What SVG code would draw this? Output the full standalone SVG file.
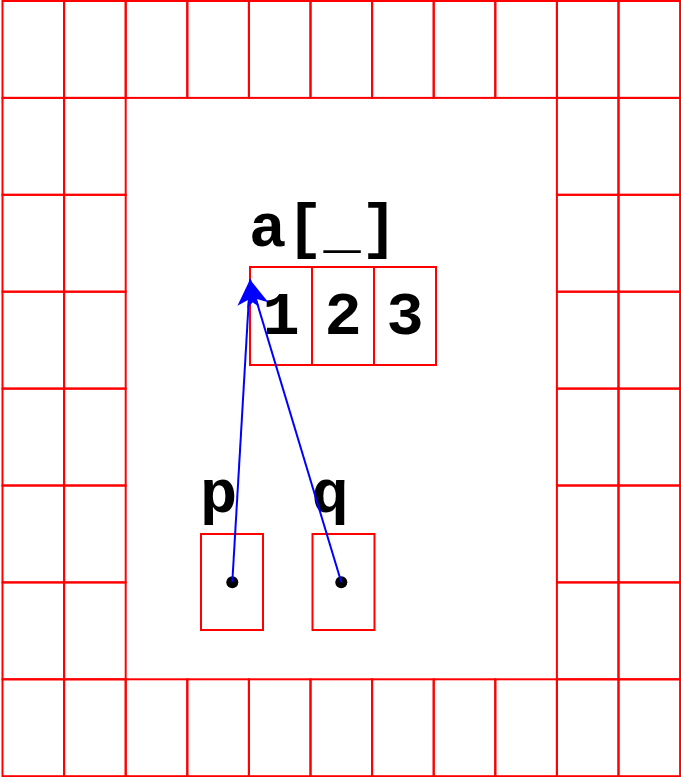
<svg xmlns="http://www.w3.org/2000/svg" width="681" height="777" viewBox="0 0 681 777">
<style>
.cell{fill:none;stroke:#ff0000;stroke-width:2}
.lbl{font-family:"Liberation Mono","Courier New",monospace;font-weight:bold;font-size:62px;fill:#000}
.ptr{stroke:#0000ff;stroke-width:2;fill:none}
</style>
<defs>
<marker id="ah" viewBox="-28 -12 30 24" markerWidth="30" markerHeight="24" refX="0" refY="0" orient="auto" markerUnits="userSpaceOnUse">
<path d="M0,0 L-27,-11 L-20,0 L-27,11 Z" fill="#0000ff"/>
</marker>
</defs>
<rect width="681" height="777" fill="#fff"/>
<g id="frame">
<g id="top-row">
<rect class="cell" x="2.5" y="1" width="61.6" height="96.9"/>
<rect class="cell" x="64.1" y="1" width="61.6" height="96.9"/>
<rect class="cell" x="125.7" y="1" width="61.6" height="96.9"/>
<rect class="cell" x="187.3" y="1" width="61.6" height="96.9"/>
<rect class="cell" x="248.9" y="1" width="61.6" height="96.9"/>
<rect class="cell" x="310.5" y="1" width="61.6" height="96.9"/>
<rect class="cell" x="372.1" y="1" width="61.6" height="96.9"/>
<rect class="cell" x="433.7" y="1" width="61.6" height="96.9"/>
<rect class="cell" x="495.3" y="1" width="61.6" height="96.9"/>
<rect class="cell" x="556.9" y="1" width="61.6" height="96.9"/>
<rect class="cell" x="618.5" y="1" width="61.6" height="96.9"/>
</g>
<g id="bottom-row">
<rect class="cell" x="2.5" y="679.3" width="61.6" height="96.9"/>
<rect class="cell" x="64.1" y="679.3" width="61.6" height="96.9"/>
<rect class="cell" x="125.7" y="679.3" width="61.6" height="96.9"/>
<rect class="cell" x="187.3" y="679.3" width="61.6" height="96.9"/>
<rect class="cell" x="248.9" y="679.3" width="61.6" height="96.9"/>
<rect class="cell" x="310.5" y="679.3" width="61.6" height="96.9"/>
<rect class="cell" x="372.1" y="679.3" width="61.6" height="96.9"/>
<rect class="cell" x="433.7" y="679.3" width="61.6" height="96.9"/>
<rect class="cell" x="495.3" y="679.3" width="61.6" height="96.9"/>
<rect class="cell" x="556.9" y="679.3" width="61.6" height="96.9"/>
<rect class="cell" x="618.5" y="679.3" width="61.6" height="96.9"/>
</g>
<g id="left-cols">
<rect class="cell" x="2.5" y="97.9" width="61.6" height="96.9"/>
<rect class="cell" x="64.1" y="97.9" width="61.6" height="96.9"/>
<rect class="cell" x="2.5" y="194.8" width="61.6" height="96.9"/>
<rect class="cell" x="64.1" y="194.8" width="61.6" height="96.9"/>
<rect class="cell" x="2.5" y="291.7" width="61.6" height="96.9"/>
<rect class="cell" x="64.1" y="291.7" width="61.6" height="96.9"/>
<rect class="cell" x="2.5" y="388.6" width="61.6" height="96.9"/>
<rect class="cell" x="64.1" y="388.6" width="61.6" height="96.9"/>
<rect class="cell" x="2.5" y="485.5" width="61.6" height="96.9"/>
<rect class="cell" x="64.1" y="485.5" width="61.6" height="96.9"/>
<rect class="cell" x="2.5" y="582.4" width="61.6" height="96.9"/>
<rect class="cell" x="64.1" y="582.4" width="61.6" height="96.9"/>
</g>
<g id="right-cols">
<rect class="cell" x="556.9" y="97.9" width="61.6" height="96.9"/>
<rect class="cell" x="618.5" y="97.9" width="61.6" height="96.9"/>
<rect class="cell" x="556.9" y="194.8" width="61.6" height="96.9"/>
<rect class="cell" x="618.5" y="194.8" width="61.6" height="96.9"/>
<rect class="cell" x="556.9" y="291.7" width="61.6" height="96.9"/>
<rect class="cell" x="618.5" y="291.7" width="61.6" height="96.9"/>
<rect class="cell" x="556.9" y="388.6" width="61.6" height="96.9"/>
<rect class="cell" x="618.5" y="388.6" width="61.6" height="96.9"/>
<rect class="cell" x="556.9" y="485.5" width="61.6" height="96.9"/>
<rect class="cell" x="618.5" y="485.5" width="61.6" height="96.9"/>
<rect class="cell" x="556.9" y="582.4" width="61.6" height="96.9"/>
<rect class="cell" x="618.5" y="582.4" width="61.6" height="96.9"/>
</g>
</g>
<g id="array-a">
<text class="lbl" x="249" y="246">a[_]</text>
<rect class="cell" x="250" y="267" width="62" height="98"/>
<rect class="cell" x="312" y="267" width="62" height="98"/>
<rect class="cell" x="374" y="267" width="62" height="98"/>
<text class="lbl" x="281" y="334" text-anchor="middle">1</text>
<text class="lbl" x="343" y="334" text-anchor="middle">2</text>
<text class="lbl" x="405" y="334" text-anchor="middle">3</text>
</g>
<g id="var-p">
<text class="lbl" x="200" y="512">p</text>
<rect class="cell" x="201" y="534" width="62" height="96"/>
<circle cx="232.3" cy="582.3" r="6" fill="#000"/>
</g>
<g id="var-q">
<text class="lbl" x="311.5" y="512">q</text>
<rect class="cell" x="312.5" y="534" width="62" height="96"/>
<circle cx="341.3" cy="582.3" r="6" fill="#000"/>
</g>
<g id="connectors">
<line class="ptr" x1="232.3" y1="582.3" x2="250" y2="279.5" marker-end="url(#ah)"/>
<line class="ptr" x1="341.3" y1="582.3" x2="250" y2="279.5" marker-end="url(#ah)"/>
</g>
</svg>
